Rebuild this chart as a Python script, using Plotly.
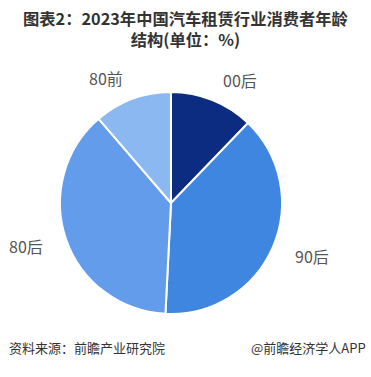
import math
import plotly.graph_objects as go

# Data
labels = ["00后", "90后", "80后", "80前"]
values = [12.2, 38.6, 37.9, 11.3]
colors = ["#0b2c80", "#3f86e0", "#629ceb", "#8cb8f2"]

title_line1 = "图表2：2023年中国汽车租赁行业消费者年龄"
title_line2 = "结构(单位：%)"
source_text = "资料来源：前瞻产业研究院"
brand_text = "@前瞻经济学人APP"

W, H = 371, 377
FONT = "Noto Sans CJK SC, Microsoft YaHei, sans-serif"

# pie geometry (pixels)
cx, cy, r = 171, 203, 111

fig = go.Figure(go.Pie(
    labels=labels, values=values, sort=False, direction="clockwise", rotation=0,
    marker=dict(colors=colors, line=dict(color="white", width=2)),
    textinfo="none", hoverinfo="label+percent", showlegend=False,
    domain=dict(x=[(cx - r) / W, (cx + r) / W], y=[1 - (cy + r) / H, 1 - (cy - r) / H]),
))

# outside labels computed from the data's mid-angles
total = sum(values)
cum = 0
annotations = []
R = r + 22
for lab, v in zip(labels, values):
    mid = (cum + v / 2) / total * 2 * math.pi
    cum += v
    px = cx + R * math.sin(mid)
    py = cy - R * math.cos(mid)
    annotations.append(dict(
        x=px / W, y=1 - py / H, xref="paper", yref="paper", text=lab, showarrow=False,
        xanchor="left" if math.sin(mid) >= 0 else "right", yanchor="middle",
        font=dict(family=FONT, size=16, color="#555555"),
    ))

annotations += [
    dict(x=186 / W, y=1 - 29 / H, xref="paper", yref="paper",
         text="<b>" + title_line1 + "</b><br><b>" + title_line2 + "</b>",
         showarrow=False, xanchor="center", yanchor="middle", align="center",
         font=dict(family=FONT, size=16.3, color="#333333")),
    dict(x=7 / W, y=1 - 347 / H, xref="paper", yref="paper", text=source_text,
         showarrow=False, xanchor="left", yanchor="middle",
         font=dict(family=FONT, size=13, color="#333333")),
    dict(x=368 / W, y=1 - 347 / H, xref="paper", yref="paper", text=brand_text,
         showarrow=False, xanchor="right", yanchor="middle",
         font=dict(family=FONT, size=13, color="#333333")),
]

fig.update_layout(
    width=W, height=H, margin=dict(l=0, r=0, t=0, b=0),
    paper_bgcolor="white", plot_bgcolor="white",
    annotations=annotations,
)

fig.write_html("out.html", config={"displayModeBar": False},
               post_script="document.body.style.margin='0';document.body.style.overflow='hidden';")
